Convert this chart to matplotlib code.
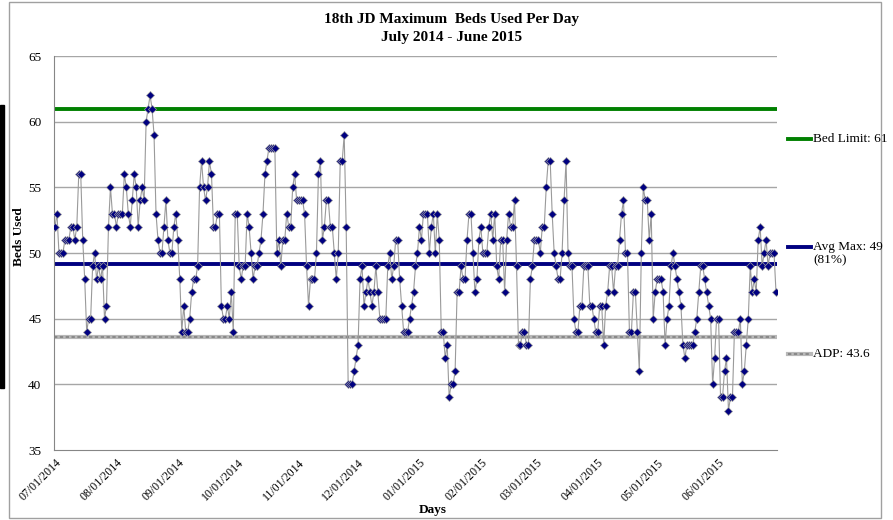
import numpy as np
import pandas as pd
import matplotlib
matplotlib.use("Agg")
import matplotlib.pyplot as plt
from matplotlib.lines import Line2D
from matplotlib.patches import Rectangle

plt.rcParams["font.family"] = ["Liberation Serif", "DejaVu Serif"]

# daily max beds used (07/01/2014 onwards, one value per day)
beds_part1 = [52, 53, 50, 50, 50, 51, 51, 51, 52, 52, 51, 52, 56, 56, 51, 48, 44, 45, 45, 49,
              50, 48, 49, 48, 49, 45, 46, 52, 55, 53, 53, 52, 53, 53, 53, 56, 55, 53, 52, 54,
              56, 55, 52, 54]
beds_part2 = [55, 54, 60, 61, 62, 61, 59, 53, 51, 50, 50, 52, 54, 51, 50, 50, 52, 53, 51, 48,
              44, 46, 44, 44, 45, 47, 48, 48, 49, 55, 57, 55, 54, 55, 57, 56, 52, 52, 53, 53,
              46, 45, 45, 46, 45, 47, 44]
beds_part3 = [53, 53, 49, 48, 49, 49, 53, 52, 50, 48, 49, 49, 50, 51, 53, 56, 57, 58, 58, 58,
              58, 50, 51, 49, 51, 51, 53, 52, 52, 55, 56, 54, 54, 54, 54, 53, 49, 46, 48, 48,
              48, 50, 56, 57, 51, 52, 54, 54, 52]
beds_part4 = [52, 50, 48, 50, 57, 57, 59, 52, 40, 40, 40, 41, 42, 43, 48, 49, 46, 47, 48, 47,
              46, 47, 49, 47, 45, 45, 45, 45, 49, 50, 48, 49, 51, 51, 48, 46, 44, 44, 44, 45,
              46, 47, 49, 50, 52, 51, 53]
beds_part5 = [53, 53, 50, 52, 53, 50, 53, 51, 44, 44, 42, 43, 39, 40, 40, 41, 47, 47, 49, 48,
              48, 51, 53, 53, 50, 47, 48, 51, 52, 50, 50, 50, 52, 53, 51, 53, 49, 48, 51, 51,
              47, 51, 53, 52, 52, 54, 49, 43]
beds_part6 = [43, 44, 44, 43, 43, 48, 49, 51, 51, 51, 50, 52, 52, 55, 57, 57, 53, 50, 49, 48,
              48, 50, 54, 57, 50, 49, 49, 45, 44, 44, 46, 46, 49, 49, 49, 46, 46, 45, 44, 44,
              46, 46, 43, 46, 47, 49, 49, 47]
beds_part7 = [49, 49, 51, 53, 54, 50, 50, 44, 44, 47, 47, 44, 41, 50, 55, 54, 54, 51, 53, 45,
              47, 48, 48, 48, 47, 43, 45, 46, 49, 50, 49, 48, 47, 46, 43, 42, 43, 43, 43, 43,
              44, 45, 47, 49, 49, 48, 47, 46, 45]
beds_part8 = [40, 42, 45, 45, 39, 39, 41, 42, 38, 39, 39, 44, 44, 44, 45, 40, 41, 43, 45, 49,
              47, 48, 47, 51, 52, 49, 50, 51, 49, 50, 50, 50, 47]

BED_LIMIT = 61
AVG_MAX = 49.2
ADP = 43.6
legend_labels = ["Bed Limit: 61", "Avg Max: 49\n(81%)", "ADP: 43.6"]

beds = (beds_part1 + beds_part2 + beds_part3 + beds_part4 + beds_part5
        + beds_part6 + beds_part7 + beds_part8)
days = pd.date_range("2014-07-01", periods=len(beds), freq="D")
month_ticks = pd.date_range("2014-07-01", "2015-06-01", freq="MS")

W, H = 893, 520
fig = plt.figure(figsize=(W / 100, H / 100), dpi=100)
ax = fig.add_axes([54 / W, 70 / H, 723 / W, 394 / H])

for y in range(40, 66, 5):
    ax.axhline(y, color="#a6a6a6", lw=1, zorder=1)
ax.axhline(BED_LIMIT, color="#008000", lw=2.8, zorder=2)
ax.axhline(AVG_MAX, color="#000080", lw=2.8, zorder=2)
ax.axhline(ADP, color="#b8b8b8", lw=3, zorder=2)
ax.axhline(ADP, color="#808080", lw=1.2, ls=(0, (2, 1.5)), zorder=2)

ax.plot(days, beds, color="#9a9a9a", lw=0.8, marker="D", ms=3.6,
        mfc="#000080", mec="#a0a0a0", mew=0.5, zorder=3)

ax.set_ylim(35, 65)
ax.set_yticks(range(35, 66, 5))
ax.set_xlim(days[0] - pd.Timedelta(hours=12), days[-1] + pd.Timedelta(hours=12))
ax.set_xticks(month_ticks)
ax.set_xticklabels([d.strftime("%m/%d/%Y") for d in month_ticks],
                   rotation=45, ha="right", va="top", rotation_mode="anchor",
                   fontsize=8.5)
ax.tick_params(axis="y", length=0, pad=9, labelsize=9.5)
ax.tick_params(axis="x", length=0, pad=5)
for s in ["top", "right"]:
    ax.spines[s].set_visible(False)
for s in ["left", "bottom"]:
    ax.spines[s].set_color("#868686")
ax.set_facecolor("none")

# titles and axis labels
fig.text(452 / W, 1 - 20 / H, "18th JD Maximum  Beds Used Per Day", ha="center",
         va="center", fontsize=11, fontweight="bold")
fig.text(452 / W, 1 - 38 / H, "July 2014 - June 2015", ha="center", va="center",
         fontsize=11, fontweight="bold")
fig.text(19 / W, 1 - 237 / H, "Beds Used", rotation=90, ha="center", va="center",
         fontsize=9.5, fontweight="bold")
fig.text(433 / W, 1 - 510 / H, "Days", ha="center", va="center",
         fontsize=9.5, fontweight="bold")

# legend on the right, spread out like the original
leg_y = [139, 247, 354]
for i, (lab, yy) in enumerate(zip(legend_labels, leg_y)):
    yf = 1 - yy / H
    if i == 0:
        fig.add_artist(Line2D([788 / W, 811 / W], [yf, yf], color="#008000", lw=2.8))
    elif i == 1:
        fig.add_artist(Line2D([788 / W, 811 / W], [yf, yf], color="#000080", lw=2.8))
    else:
        fig.add_artist(Line2D([788 / W, 811 / W], [yf, yf], color="#b8b8b8", lw=3))
        fig.add_artist(Line2D([788 / W, 811 / W], [yf, yf], color="#808080", lw=1.2,
                              ls=(0, (2, 1.5))))
    fig.text(813 / W, yf + 6 / H, lab, ha="left", va="top", fontsize=9.5,
             linespacing=1.15)

# chart border and the dark strip at the left edge
fig.add_artist(Rectangle((8.5 / W, 2 / H), 872 / W, 516 / H, fill=False,
                         edgecolor="#a0a0a0", lw=1, transform=fig.transFigure))
fig.add_artist(Rectangle((0, 1 - 388 / H), 4 / W, 283 / H, color="black",
                         transform=fig.transFigure))

plt.savefig("out.png", dpi=100)
plt.close()
